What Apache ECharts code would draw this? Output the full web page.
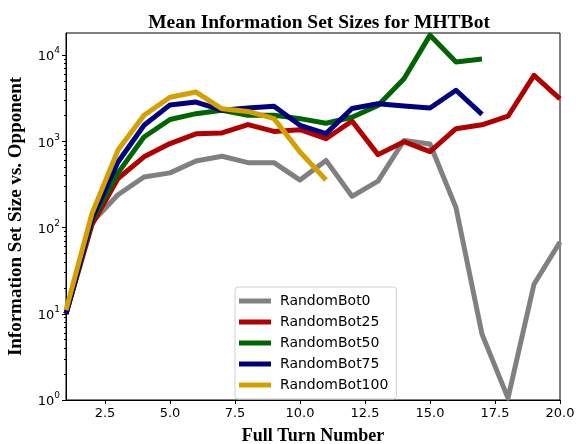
<!DOCTYPE html>
<html>
<head>
<meta charset="utf-8">
<script src="https://cdn.jsdelivr.net/npm/echarts@6/dist/echarts.min.js"></script>
<style>
  html, body { margin: 0; padding: 0; background: #fff; }
  #chart { width: 576px; height: 444px; }
</style>
</head>
<body>
<div id="chart"></div>
<script>
  // turn numbers and mean info-set sizes per opponent
  const turns = [1, 2, 3, 4, 5, 6, 7, 8, 9, 10, 11, 12, 13, 14, 15, 16, 17, 18, 19, 20];
  const bot0 = [10, 115, 240, 385, 430, 590, 670, 565, 565, 355, 600, 230, 345, 1020, 930, 170, 5.8, 1.05, 22, 68];
  const bot25 = [10, 108, 370, 660, 940, 1220, 1250, 1560, 1300, 1360, 1070, 1720, 700, 990, 760, 1400, 1550, 1950, 5800, 3100];
  const bot50 = [10, 120, 430, 1120, 1790, 2090, 2290, 2000, 2000, 1830, 1620, 1900, 2600, 5300, 17000, 8300, 9000];
  const bot75 = [10, 127, 575, 1530, 2640, 2850, 2290, 2430, 2540, 1530, 1225, 2400, 2720, 2560, 2430, 3900, 2050];
  const bot100 = [11, 146, 790, 2000, 3240, 3720, 2380, 2220, 1830, 750, 355];

  const seriesNames = ['RandomBot0', 'RandomBot25', 'RandomBot50', 'RandomBot75', 'RandomBot100'];
  const seriesColors = ['#808080', '#b20000', '#006400', '#000080', '#d4a000'];
  const xTicks = [2.5, 5, 7.5, 10, 12.5, 15, 17.5, 20];
  const yTicks = [1, 10, 100, 1000, 10000];

  const minorTicks = [];
  for (let d = 1; d <= 10000; d *= 10) {
    for (let k = 2; k <= 9; k++) {
      if (d * k < 18000) minorTicks.push(d * k);
    }
  }

  const allData = [bot0, bot25, bot50, bot75, bot100];
  const supers = { 1: '0', 10: '1', 100: '2', 1000: '3', 10000: '4' };

  const chart = echarts.init(document.getElementById('chart'));

  const option = {
    animation: false,
    backgroundColor: '#fff',
    title: {
      text: 'Mean Information Set Sizes for MHTBot',
      left: 314,
      textAlign: 'center',
      top: 8,
      textStyle: {
        fontFamily: 'Liberation Serif',
        fontWeight: 'bold',
        fontSize: 19.5,
        color: '#000'
      }
    },
    grid: {
      left: 66,
      right: 16,
      top: 33,
      bottom: 44,
      outerBoundsMode: 'none',
      show: true,
      borderColor: '#000',
      borderWidth: 1,
      backgroundColor: 'transparent'
    },
    legend: {
      orient: 'vertical',
      left: 235,
      top: 287,
      data: seriesNames,
      icon: 'rect',
      itemWidth: 32,
      itemHeight: 5,
      itemGap: 7,
      padding: [7, 8, 7, 4],
      backgroundColor: 'rgba(255,255,255,0.8)',
      borderColor: '#d0d0d0',
      borderWidth: 1,
      borderRadius: 3,
      textStyle: {
        fontFamily: 'DejaVu Sans',
        fontSize: 14,
        color: '#000',
        padding: [0, 0, 0, 4]
      }
    },
    xAxis: {
      type: 'value',
      min: 1,
      max: 20,
      name: 'Full Turn Number',
      nameLocation: 'middle',
      nameGap: 27,
      nameTextStyle: {
        fontFamily: 'Liberation Serif',
        fontWeight: 'bold',
        fontSize: 18,
        color: '#000'
      },
      axisLine: { show: true, lineStyle: { color: '#000', width: 1 } },
      axisTick: { show: true, length: 4, customValues: xTicks, lineStyle: { color: '#000' } },
      axisLabel: {
        customValues: xTicks,
        fontFamily: 'DejaVu Sans',
        fontSize: 13,
        color: '#000',
        margin: 7,
        formatter: (v) => v.toFixed(1)
      },
      splitLine: { show: false }
    },
    yAxis: [
      {
        type: 'log',
        logBase: 10,
        min: 1,
        max: 18000,
        name: 'Information Set Size vs. Opponent',
        nameLocation: 'middle',
        nameGap: 40,
        nameTextStyle: {
          fontFamily: 'Liberation Serif',
          fontWeight: 'bold',
          fontSize: 19,
          color: '#000'
        },
        axisLine: { show: true, lineStyle: { color: '#000', width: 1 } },
        axisTick: { show: true, length: 4, customValues: yTicks, lineStyle: { color: '#000' } },
        axisLabel: {
          customValues: yTicks,
          margin: 6,
          formatter: (v) => '{b|10}{s|' + supers[v] + '}',
          rich: {
            b: { fontFamily: 'DejaVu Sans', fontSize: 13, color: '#000', verticalAlign: 'bottom' },
            s: { fontFamily: 'DejaVu Sans', fontSize: 9, color: '#000', verticalAlign: 'top', padding: [0, 0, 8, 0] }
          }
        },
        splitLine: { show: false }
      },
      {
        type: 'log',
        logBase: 10,
        min: 1,
        max: 18000,
        position: 'left',
        axisLine: { show: false },
        axisTick: { show: true, length: 2, customValues: minorTicks, lineStyle: { color: '#000' } },
        axisLabel: { show: false },
        splitLine: { show: false }
      }
    ],
    series: allData.map((vals, i) => ({
      name: seriesNames[i],
      type: 'line',
      yAxisIndex: 0,
      data: vals.map((v, j) => [turns[j], v]),
      showSymbol: false,
      symbol: 'none',
      color: seriesColors[i],
      lineStyle: { width: 5, color: seriesColors[i], join: 'round', cap: 'butt' },
      emphasis: { disabled: true }
    }))
  };

  chart.setOption(option);
</script>
</body>
</html>
